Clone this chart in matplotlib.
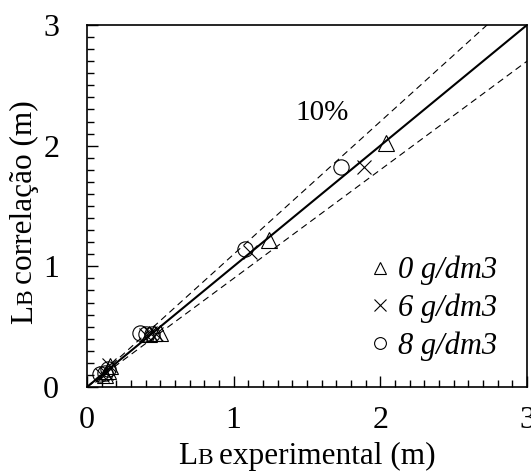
import numpy as np
import matplotlib
matplotlib.use("Agg")
import matplotlib.pyplot as plt
from matplotlib.lines import Line2D
from matplotlib.transforms import IdentityTransform

plt.rcParams['font.family'] = 'serif'
plt.rcParams['font.serif'] = ['Liberation Serif', 'DejaVu Serif']

# data (LB experimental, LB correlacao)
tri_x = [0.12, 0.14, 0.16, 0.42, 0.46, 0.50, 1.24, 2.04]
tri_y = [0.10, 0.13, 0.17, 0.44, 0.45, 0.45, 1.22, 2.02]
cross_x = [0.10, 0.13, 0.15, 0.40, 0.43, 0.47, 1.11, 1.89]
cross_y = [0.10, 0.12, 0.18, 0.43, 0.45, 0.44, 1.12, 1.82]
circ_x = [0.09, 0.12, 0.14, 0.36, 0.40, 0.44, 1.08, 1.73]
circ_y = [0.11, 0.12, 0.15, 0.45, 0.44, 0.44, 1.14, 1.82]
labels = ['0 g/dm3', '6 g/dm3', '8 g/dm3']
band = 0.10

fig = plt.figure(figsize=(5.31, 4.71), dpi=100)
ax = fig.add_axes([87/531, 84/471, 440/531, 362/471])

xx = np.array([0, 3])
ax.plot(xx, xx, color='black', lw=1.5)
ax.plot(xx, (1 + band) * xx, color='black', lw=0.8, ls=(0, (6, 4)))
ax.plot(xx, (1 - band) * xx, color='black', lw=0.8, ls=(0, (6, 4)))

mk = dict(ls='none', mfc='none', mec='black', mew=0.8)
ax.plot(tri_x, tri_y, marker='^', ms=11, **mk)
ax.plot(cross_x, cross_y, marker='x', ms=10, **mk)
ax.plot(circ_x, circ_y, marker='o', ms=11, **mk)

ax.text(1.60, 2.27, '10%', fontsize=21, ha='center', va='center')

handles = [Line2D([], [], marker='^', ms=9, **mk),
           Line2D([], [], marker='x', ms=8.5, **mk),
           Line2D([], [], marker='o', ms=8.5, **mk)]
ax.legend(handles, labels, loc='lower right', bbox_to_anchor=(0.933, 0.072),
          frameon=False, handlelength=0.6, handletextpad=0.3,
          labelspacing=0.27, borderpad=0, borderaxespad=0,
          prop=dict(size=22, style='italic'))

ax.set_xlim(0, 3)
ax.set_ylim(0, 3)
ax.set_xticks([0, 1, 2, 3])
ax.set_yticks([0, 1, 2, 3])
ax.set_xticks(np.arange(0, 3.01, 0.1), minor=True)
ax.set_yticks(np.arange(0, 3.01, 0.1), minor=True)
ax.tick_params(which='both', direction='in', top=False, right=False, width=1)
ax.tick_params(which='major', length=8, labelsize=23)
ax.tick_params(which='minor', length=5)
ax.tick_params(axis='x', which='major', pad=14)
ax.tick_params(axis='y', which='major', pad=20)
for s in ax.spines.values():
    s.set_linewidth(1.2)


def piece_label(pieces, cx, base, rotation=0):
    """Label with a small-caps style letter: pieces are (text, size, gap)."""
    r = fig.canvas.get_renderer()
    texts, widths = [], []
    for s, fs, gap in pieces:
        t = fig.text(0, 0, s, fontsize=fs, ha='left', va='baseline',
                     transform=IdentityTransform())
        texts.append(t)
        widths.append(t.get_window_extent(r).width + gap)
    pos = cx - sum(widths) / 2
    for t, w in zip(texts, widths):
        if rotation:
            t.set_rotation(90)
            t.set_rotation_mode('anchor')
            t.set_position((base, pos))
        else:
            t.set_position((pos, base))
        pos += w


fig.canvas.draw()
piece_label([('L', 22.5, 0), ('B', 17, 6), ('experimental (m)', 22.5, 0)], 307, 7)
piece_label([('L', 22.5, 0), ('B', 17, 6), ('correlação (m)', 22.5, 0)], 259, 32,
            rotation=90)

fig.savefig('out.png', dpi=100)
